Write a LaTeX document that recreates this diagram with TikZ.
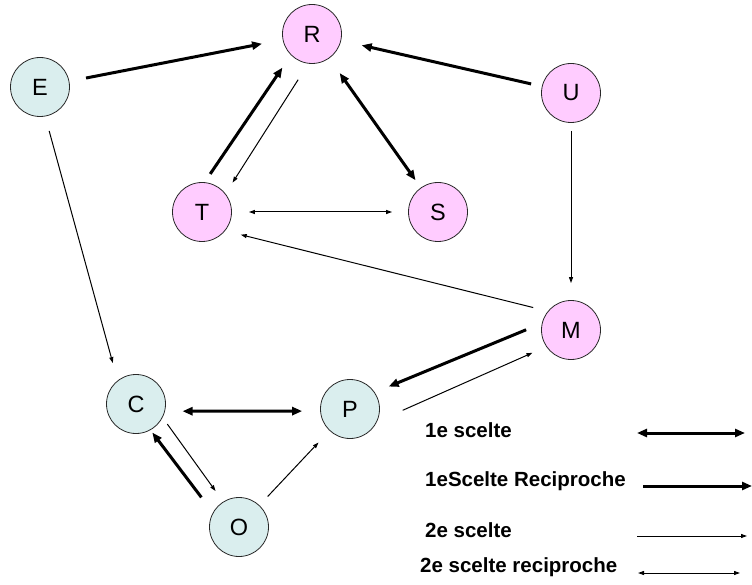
\documentclass[tikz,border=0pt]{standalone}
\usepackage{fontspec}
\setmainfont{Liberation Sans}
\usepackage{tikz}
\usetikzlibrary{arrows.meta}
\definecolor{pinkcolor}{RGB}{255,204,255}
\definecolor{bluecolor}{RGB}{218,238,238}
\definecolor{rimcolor}{RGB}{40,40,40}
\tikzstyle{pinknode} = [circle, draw=rimcolor, line width=0.8pt, fill=pinkcolor, minimum size=59pt, inner sep=0pt, font=\fontsize{23.5}{27}\selectfont]
\tikzstyle{bluenode} = [circle, draw=rimcolor, line width=0.8pt, fill=bluecolor, minimum size=59pt, inner sep=0pt, font=\fontsize{23.5}{27}\selectfont]
\tikzstyle{legendtext} = [anchor=west, inner sep=0pt, font=\fontsize{20.5}{24}\selectfont\bfseries]
\tikzstyle{thickarrow} = [-{Triangle[length=10pt,width=8pt]}, line width=3pt]
\tikzstyle{thickdouble} = [{Triangle[length=10pt,width=8pt]}-{Triangle[length=10pt,width=8pt]}, line width=3pt]
\tikzstyle{thinarrow} = [-{Triangle[length=6pt,width=4pt]}, line width=1pt]
\tikzstyle{thindouble} = [{Triangle[length=6pt,width=4pt]}-{Triangle[length=6pt,width=4pt]}, line width=1pt]

\begin{document}
\begin{tikzpicture}[x=1pt, y=-1pt]
    \useasboundingbox (0,0) rectangle (752,585);

    % Pink nodes
    \node[pinknode] (R) at (312,34) {R};
    \node[pinknode] (U) at (571,93) {U};
    \node[pinknode] (T) at (202,212) {T};
    \node[pinknode] (S) at (438,212) {S};
    \node[pinknode] (M) at (571,330) {M};

    % Blue nodes
    \node[bluenode] (E) at (40,87) {E};
    \node[bluenode] (C) at (136,404) {C};
    \node[bluenode] (P) at (350,409) {P};
    \node[bluenode] (O) at (239,527) {O};

    % Top triangle
    \draw[thickarrow, shorten <=17pt, shorten >=21pt] (E) -- (R);
    \draw[thickarrow, shorten <=11pt, shorten >=21pt] (U) -- (R);
    \draw[thickdouble, shorten <=18pt, shorten >=9pt] (R) -- (S);
    \draw[thickarrow, shorten <=10pt, shorten >=15pt] (T.85) -- (R.225);
    \draw[thinarrow, shorten <=19pt, shorten >=13pt] (R.263) -- (T.38);
    \draw[thindouble, shorten <=17pt, shorten >=16pt] (T) -- (S);
    \draw[thinarrow, shorten <=15pt, shorten >=16pt] (M.141) -- (T.321);
    \draw[thinarrow, shorten <=8pt, shorten >=17pt] (U) -- (M);

    % Bottom triangle
    \draw[thickarrow, shorten <=17pt, shorten >=15pt] (M.167) -- (P.34);
    \draw[thinarrow, shorten <=28pt, shorten >=15pt] (P.335) -- (M.214);
    \draw[thinarrow, shorten <=15pt, shorten >=18pt] (E.280) -- (C.128);
    \draw[thickdouble, shorten <=17.5pt, shorten >=18pt] (C.346) -- (P.184);
    \draw[thickarrow, shorten <=19pt, shorten >=3pt] (O.151) -- (C.299);
    \draw[thinarrow, shorten <=8pt, shorten >=13pt] (C.333) -- (O.122);
    \draw[thinarrow, shorten <=12pt, shorten >=16pt] (O) -- (P);

    % Legend
    \node[legendtext] (lg1) at (425,430) {1e scelte};
    \node[legendtext] (lg2) at (425,481) {1eScelte Reciproche};
    \node[legendtext] (lg3) at (425,530) {2e scelte};
    \node[legendtext] (lg4) at (420,567) {2e scelte reciproche};
    \coordinate (lg1a) at (637,433);
    \coordinate (lg1b) at (745,433);
    \coordinate (lg2a) at (643,486);
    \coordinate (lg2b) at (752,486);
    \coordinate (lg3a) at (637,536);
    \coordinate (lg3b) at (747,536);
    \coordinate (lg4a) at (638,573);
    \coordinate (lg4b) at (740,573);
    \draw[thickdouble] (lg1a) -- (lg1b);
    \draw[thickarrow] (lg2a) -- (lg2b);
    \draw[thinarrow] (lg3a) -- (lg3b);
    \draw[thindouble] (lg4a) -- (lg4b);
\end{tikzpicture}
\end{document}
